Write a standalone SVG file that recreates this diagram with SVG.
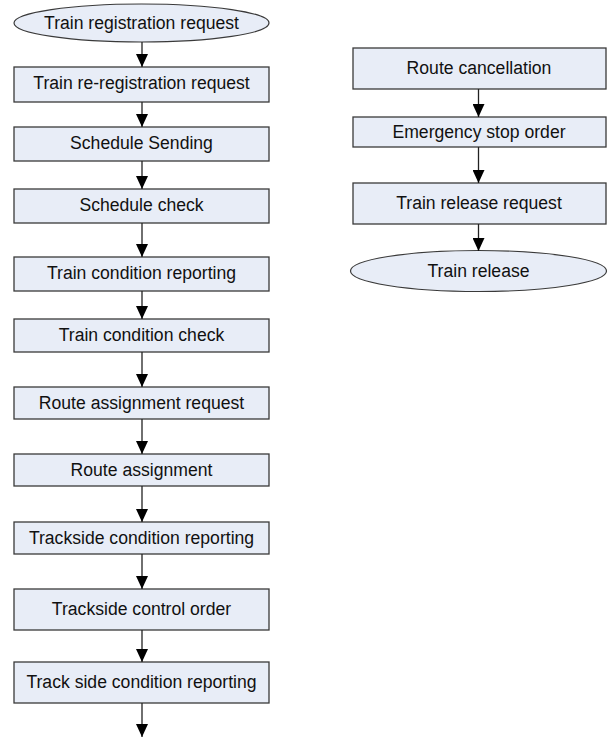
<svg xmlns="http://www.w3.org/2000/svg" width="611" height="738" viewBox="0 0 611 738">
  <style>
    .box { fill: #E8EDF7; stroke: #3A3A3A; stroke-width: 1.3; }
    .term { fill: #E8EDF7; stroke: #3A3A3A; stroke-width: 1.2; }
    .lbl { font-family: "Liberation Sans", Arial, sans-serif; font-size: 17.6px; fill: #111; text-anchor: middle; }
    .edge { stroke: #222; stroke-width: 1.3; fill: none; marker-end: url(#arrow); }
  </style>
  <defs>
    <marker id="arrow" markerUnits="userSpaceOnUse" markerWidth="13" markerHeight="12" refX="13" refY="6" orient="auto">
      <path d="M0,0 L13,6 L0,12 z" fill="#000"/>
    </marker>
  </defs>
  <rect width="611" height="738" fill="#fff"/>

  <!-- left flow -->
  <g id="n-registration">
    <ellipse class="term" cx="141.5" cy="23" rx="127.5" ry="19"/>
    <text class="lbl" x="141.5" y="29">Train registration request</text>
  </g>
  <g id="n-reregistration">
    <rect class="box" x="14" y="67" width="255" height="35"/>
    <text class="lbl" x="141.5" y="89">Train re-registration request</text>
  </g>
  <g id="n-schedule-sending">
    <rect class="box" x="14" y="127" width="255" height="34"/>
    <text class="lbl" x="141.5" y="149">Schedule Sending</text>
  </g>
  <g id="n-schedule-check">
    <rect class="box" x="14" y="189" width="255" height="34"/>
    <text class="lbl" x="141.5" y="211">Schedule check</text>
  </g>
  <g id="n-train-cond-report">
    <rect class="box" x="14" y="257" width="255" height="34"/>
    <text class="lbl" x="141.5" y="279">Train condition reporting</text>
  </g>
  <g id="n-train-cond-check">
    <rect class="box" x="14" y="319" width="255" height="33"/>
    <text class="lbl" x="141.5" y="341">Train condition check</text>
  </g>
  <g id="n-route-req">
    <rect class="box" x="14" y="387" width="255" height="32"/>
    <text class="lbl" x="141.5" y="409">Route assignment request</text>
  </g>
  <g id="n-route-assign">
    <rect class="box" x="14" y="454" width="255" height="32"/>
    <text class="lbl" x="141.5" y="476">Route assignment</text>
  </g>
  <g id="n-trackside-report">
    <rect class="box" x="14" y="522" width="255" height="32"/>
    <text class="lbl" x="141.5" y="544">Trackside condition reporting</text>
  </g>
  <g id="n-trackside-order">
    <rect class="box" x="14" y="589" width="255" height="41"/>
    <text class="lbl" x="141.5" y="615">Trackside control order</text>
  </g>
  <g id="n-track-side-report">
    <rect class="box" x="14" y="662" width="255" height="41"/>
    <text class="lbl" x="141.5" y="688">Track side condition reporting</text>
  </g>

  <!-- right flow -->
  <g id="n-route-cancel">
    <rect class="box" x="353" y="48" width="253" height="41"/>
    <text class="lbl" x="479" y="74">Route cancellation</text>
  </g>
  <g id="n-emergency">
    <rect class="box" x="353" y="117" width="253" height="30"/>
    <text class="lbl" x="479" y="138">Emergency stop order</text>
  </g>
  <g id="n-release-req">
    <rect class="box" x="353" y="183" width="253" height="41"/>
    <text class="lbl" x="479" y="209">Train release request</text>
  </g>
  <g id="n-release">
    <ellipse class="term" cx="478.5" cy="271" rx="128" ry="20.5"/>
    <text class="lbl" x="478.5" y="277">Train release</text>
  </g>

  <g id="connectors">
    <line class="edge" x1="142" y1="42" x2="142" y2="67"/>
    <line class="edge" x1="142" y1="102" x2="142" y2="127"/>
    <line class="edge" x1="142" y1="161" x2="142" y2="189"/>
    <line class="edge" x1="142" y1="223" x2="142" y2="257"/>
    <line class="edge" x1="142" y1="291" x2="142" y2="319"/>
    <line class="edge" x1="142" y1="352" x2="142" y2="387"/>
    <line class="edge" x1="142" y1="419" x2="142" y2="454"/>
    <line class="edge" x1="142" y1="486" x2="142" y2="522"/>
    <line class="edge" x1="142" y1="554" x2="142" y2="589"/>
    <line class="edge" x1="142" y1="630" x2="142" y2="662"/>
    <line class="edge" x1="142" y1="703" x2="142" y2="737"/>
    <line class="edge" x1="478.5" y1="89" x2="478.5" y2="117"/>
    <line class="edge" x1="478.5" y1="147" x2="478.5" y2="183"/>
    <line class="edge" x1="478.5" y1="224" x2="478.5" y2="251"/>
  </g>
</svg>
